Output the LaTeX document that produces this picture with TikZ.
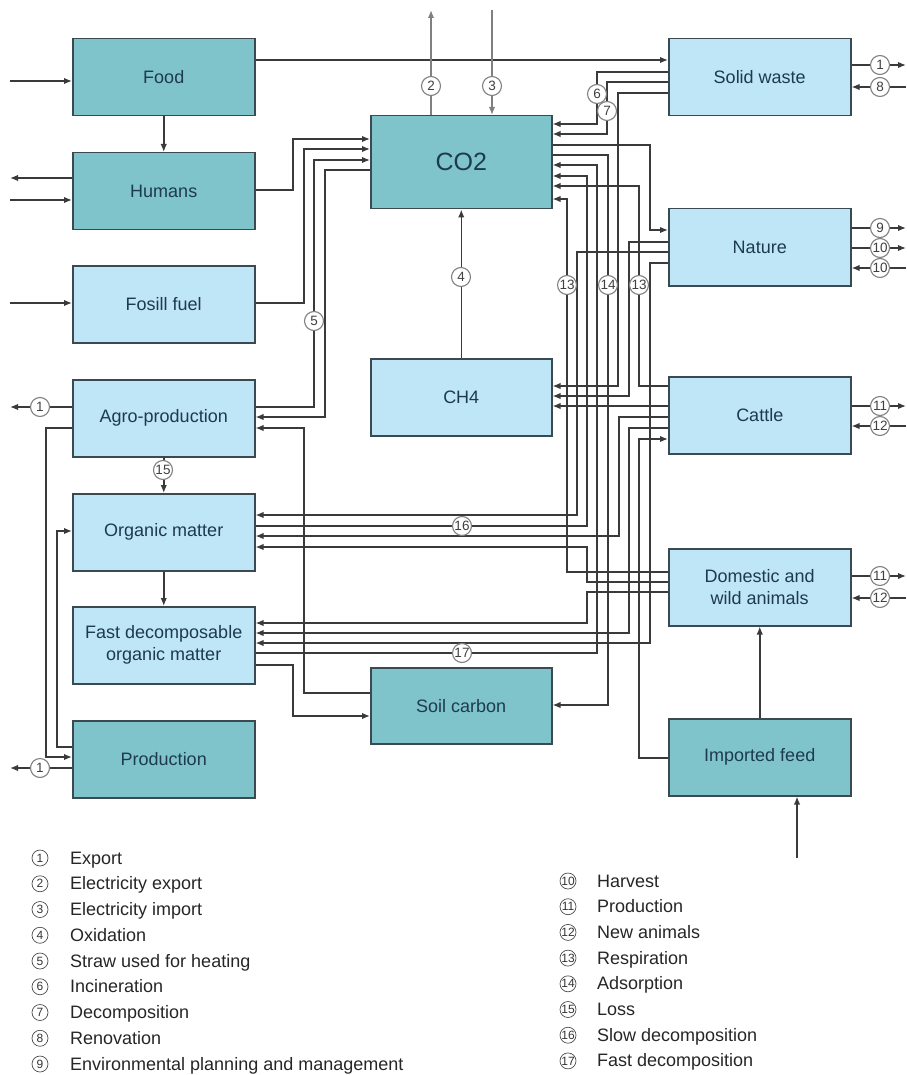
\documentclass[tikz,border=0pt]{standalone}
\usepackage{fontspec}
\setmainfont{Liberation Sans}
\usetikzlibrary{arrows.meta,calc}
\definecolor{dteal}{HTML}{80C4CB}
\definecolor{lblue}{HTML}{BFE6F7}
\definecolor{btxt}{HTML}{1D3A4F}
\definecolor{lc}{HTML}{3A3A3A}
\definecolor{bord}{HTML}{3A4A50}
\begin{document}
\begin{tikzpicture}[x=1pt,y=-1pt,
 box/.style={draw=bord,line width=1.5pt,anchor=north west,minimum width=182pt,minimum height=77pt,inner sep=0pt,align=center,text=btxt,font=\fontsize{18}{22}\selectfont},
 dbox/.style={box,fill=dteal},
 lbox/.style={box,fill=lblue},
 ln/.style={draw=lc,line width=1.5pt},
 arr/.style={ln,-{Latex[length=8pt,width=6.5pt]}},
 garr/.style={arr,draw=gray},
 num/.style={circle,draw=gray,fill=white,line width=1.1pt,inner sep=0pt,minimum size=19pt,font=\fontsize{13.5}{13.5}\selectfont,text=black!75},
 lnum/.style={circle,draw=black!70,line width=0.7pt,inner sep=0pt,minimum size=16pt,font=\fontsize{12}{12}\selectfont,text=black!80},
 ltxt/.style={anchor=base west,inner sep=0pt,font=\fontsize{18}{20}\selectfont,text=black!85}
]
\useasboundingbox (0,0) rectangle (906,1075);

% ---------- boxes ----------
\node[dbox] (food)   at (72,38)  {Food};
\node[dbox] (humans) at (72,152) {Humans};
\node[lbox] (fuel)   at (72,265) {Fosill fuel};
\node[lbox] (agro)   at (72,379) {Agro-production};
\node[lbox] (org)    at (72,493) {Organic matter};
\node[lbox] (fast)   at (72,606) {Fast decomposable\\organic matter};
\node[dbox] (prod)   at (72,720) {Production};
\node[dbox,minimum width=181pt,minimum height=93pt,font=\fontsize{25}{25}\selectfont] (co2) at (370,115) {CO2};
\node[lbox,minimum width=181pt] (ch4)  at (370,358) {CH4};
\node[dbox,minimum width=181pt,minimum height=76pt] (soil) at (370,667) {Soil carbon};
\node[lbox] (waste)  at (668,38)  {Solid waste};
\node[lbox] (nature) at (668,208) {Nature};
\node[lbox] (cattle) at (668,376) {Cattle};
\node[lbox] (dom)    at (668,548) {Domestic and\\wild animals};
\node[dbox] (imp)    at (668,718) {Imported feed};

% ---------- free ends ----------
\coordinate (foodin) at (10,81);
\coordinate (humout) at (10,178);
\coordinate (humin)  at (10,200);
\coordinate (fuelin) at (10,303);
\coordinate (agroout) at (10,407);
\coordinate (prodout) at (10,768);
\coordinate (elout) at (431,10);
\coordinate (elin)  at (492,10);
\coordinate (impin) at (797,858);
\coordinate (wout) at (906,65);
\coordinate (win)  at (906,87);
\coordinate (nout9) at (906,228);
\coordinate (nout10) at (906,248);
\coordinate (nin10) at (906,268);
\coordinate (cout) at (906,406);
\coordinate (cin)  at (906,426);
\coordinate (dout) at (906,576);
\coordinate (din)  at (906,598);

% ---------- left side ----------
\draw[arr] (foodin) -- (food.west |- foodin);
\draw[arr] (food.south) -- (humans.north);
\draw[arr] (humans.west |- humout) -- (humout);
\draw[arr] (humin) -- (humans.west |- humin);
\draw[arr] (fuelin) -- (fuel.west |- fuelin);
\draw[arr] (food.east |- 0,60) -- (waste.west |- 0,60);
\draw[garr] (co2.north -| elout) -- (elout);
\draw[garr] (elin) -- (co2.north -| elin);
\draw[arr] (humans.east |- 0,190) -| (293,139) -- (co2.west |- 0,139);
\draw[arr] (fuel.east |- 0,303) -| (304,149) -- (co2.west |- 0,149);
\draw[arr] (agro.east |- 0,407) -| (314,160) -- (co2.west |- 0,160);
\draw[arr] (co2.west |- 0,170) -| (325,417) -- (agro.east |- 0,417);
\draw[arr] (soil.west |- 0,693) -| (304,428) -- (agro.east |- 0,428);
\draw[arr] (agro.west |- agroout) -- (agroout);
\draw[arr] (agro.west |- 0,428) -| (46,757) -- (prod.west |- 0,757);
\draw[arr] (prod.west |- 0,747) -| (57,531) -- (org.west |- 0,531);
\draw[arr] (prod.west |- prodout) -- (prodout);
\draw[arr] (agro.south) -- (org.north);
\draw[arr] (org.south) -- (fast.north);
\draw[arr] (ch4.north) -- (co2.south);
\draw[arr] (fast.east |- 0,665) -| (293,716) -- (soil.west |- 0,716);

% ---------- right-side buses ----------
\draw[arr] (fast.east |- 0,653) -| (597,165) -- (co2.east |- 0,165);
\draw[arr] (org.east |- 0,526) -| (587,176) -- (co2.east |- 0,176);
\draw[arr] (waste.west |- 0,72) -| (597,124) -- (co2.east |- 0,124);
\draw[arr] (waste.west |- 0,82) -| (607,134) -- (co2.east |- 0,134);
\draw[arr] (waste.west |- 0,93) -| (618,386) -- (ch4.east |- 0,386);
\draw[arr] (co2.east |- 0,145) -| (650,230) -- (nature.west |- 0,230);
\draw[arr] (co2.east |- 0,155) -| (608,705) -- (soil.east |- 0,705);
\draw[arr] (cattle.west |- 0,386) -| (639,186) -- (co2.east |- 0,186);
\draw[arr] (dom.west |- 0,572) -| (567,199) -- (co2.east |- 0,199);
\draw[arr] (nature.west |- 0,242) -| (629,396) -- (ch4.east |- 0,396);
\draw[arr] (nature.west |- 0,252) -| (577,515) -- (org.east |- 0,515);
\draw[arr] (nature.west |- 0,263) -| (650,643) -- (fast.east |- 0,643);
\draw[arr] (cattle.west |- 0,406) -- (ch4.east |- 0,406);
\draw[arr] (cattle.west |- 0,417) -| (619,536) -- (org.east |- 0,536);
\draw[arr] (cattle.west |- 0,428) -| (629,633) -- (fast.east |- 0,633);
\draw[arr] (imp.west |- 0,758) -| (639,439) -- (cattle.west |- 0,439);
\draw[arr] (dom.west |- 0,582) -| (587,547) -- (org.east |- 0,547);
\draw[arr] (dom.west |- 0,592) -| (587,623) -- (fast.east |- 0,623);
\draw[arr] (imp.north) -- (dom.south);
\draw[arr] (impin) -- (impin |- imp.south);

% ---------- right edge ----------
\draw[arr] (waste.east |- wout) -- (wout);
\draw[arr] (win) -- (waste.east |- win);
\draw[arr] (nature.east |- nout9) -- (nout9);
\draw[arr] (nature.east |- nout10) -- (nout10);
\draw[arr] (nin10) -- (nature.east |- nin10);
\draw[arr] (cattle.east |- cout) -- (cout);
\draw[arr] (cin) -- (cattle.east |- cin);
\draw[arr] (dom.east |- dout) -- (dout);
\draw[arr] (din) -- (dom.east |- din);

% ---------- number circles ----------
\node[num] (n2) at (431,86) {2};
\node[num] (n3) at (492,86) {3};
\node[num] (n5) at (314,321) {5};
\node[num] (n1a) at (40,407) {1};
\node[num] (n1b) at (40,768) {1};
\node[num] (n15) at (163,470) {15};
\node[num] (n4) at (461,277) {4};
\node[num] (n16) at (462,526) {16};
\node[num] (n17) at (462,653) {17};
\node[num] (n6) at (597,94) {6};
\node[num] (n7) at (607,111) {7};
\node[num] (n13a) at (567,285) {13};
\node[num] (n14) at (608,285) {14};
\node[num] (n13b) at (639,285) {13};
\node[num] (n1c) at (880,65) {1};
\node[num] (n8) at (880,87) {8};
\node[num] (n9) at (880,228) {9};
\node[num] (n10a) at (880,248) {10};
\node[num] (n10b) at (880,268) {10};
\node[num] (n11a) at (880,406) {11};
\node[num] (n12a) at (880,426) {12};
\node[num] (n11b) at (880,576) {11};
\node[num] (n12b) at (880,598) {12};

% ---------- legend ----------
\foreach \k/\t [count=\i from 0] in {1/Export,2/Electricity export,3/Electricity import,4/Oxidation,5/Straw used for heating,6/Incineration,7/Decomposition,8/Renovation,9/Environmental planning and management}{
  \node[lnum] (la\k) at (40,858+25.75*\i) {\k};
  \node[ltxt] (lt\k) at (70,864+25.75*\i) {\t};
}
\foreach \k/\t [count=\i from 0] in {10/Harvest,11/Production,12/New animals,13/Respiration,14/Adsorption,15/Loss,16/Slow decomposition,17/Fast decomposition}{
  \node[lnum] (lb\k) at (568,881+25.7*\i) {\k};
  \node[ltxt] (lu\k) at (597,887+25.7*\i) {\t};
}
\end{tikzpicture}
\end{document}
